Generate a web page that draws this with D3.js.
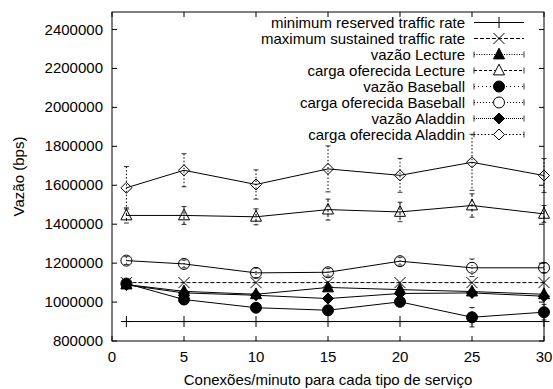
<!DOCTYPE html>
<html>
<head>
<meta charset="utf-8">
<script src="https://d3js.org/d3.v7.min.js"></script>
<style>
  body { margin: 0; background: #fff; }
  text { font-family: "Liberation Sans", Arial, Helvetica, sans-serif; font-size: 15px; fill: #000; }
</style>
</head>
<body>
<figure id="chart" style="margin:0"></figure>
<script>
// data
const conexoes = [1, 5, 10, 15, 20, 25, 30];
const xTicks = [0, 5, 10, 15, 20, 25, 30];
const yTicks = [800000, 1000000, 1200000, 1400000, 1600000, 1800000, 2000000, 2200000, 2400000];

const minReserved = [900000, 900000, 900000, 900000, 900000, 900000, 900000];
const maxSustained = [1100000, 1100000, 1100000, 1100000, 1100000, 1100000, 1100000];
const vazaoLecture = [1090000, 1055000, 1040000, 1075000, 1064000, 1054000, 1040000];
const errVazaoLecture = [5000, 8000, 8000, 8000, 8000, 8000, 8000];
const cargaLecture = [1445000, 1445000, 1438000, 1475000, 1463000, 1496000, 1453000];
const errCargaLecture = [39000, 46000, 41000, 54000, 50000, 60000, 43000];
const vazaoBaseball = [1095000, 1013000, 971000, 958000, 1001000, 922000, 948000];
const errVazaoBaseball = [8000, 10000, 15000, 15000, 10000, 50000, 40000];
const cargaBaseball = [1213000, 1196000, 1150000, 1153000, 1210000, 1176000, 1176000];
const errCargaBaseball = [20000, 20000, 25000, 20000, 20000, 45000, 25000];
const vazaoAladdin = [1088000, 1047000, 1035000, 1018000, 1044000, 1047000, 1030000];
const errVazaoAladdin = [5000, 8000, 8000, 8000, 8000, 8000, 8000];
const cargaAladdin = [1587000, 1677000, 1604000, 1684000, 1651000, 1718000, 1650000];
const errCargaAladdin = [109000, 85000, 75000, 118000, 87000, 144000, 87000];

const series = [
  { name: 'minimum reserved traffic rate', values: minReserved, err: null, mark: 'plus', dash: null, line: null },
  { name: 'maximum sustained traffic rate', values: maxSustained, err: null, mark: 'cross', dash: '4,2', line: '4,2' },
  { name: 'vazão Lecture', values: vazaoLecture, err: errVazaoLecture, mark: 'triF', dash: '1,1.5', line: null },
  { name: 'carga oferecida Lecture', values: cargaLecture, err: errCargaLecture, mark: 'tri', dash: '3,2', line: null },
  { name: 'vazão Baseball', values: vazaoBaseball, err: errVazaoBaseball, mark: 'circF', dash: '1,3', line: null },
  { name: 'carga oferecida Baseball', values: cargaBaseball, err: errCargaBaseball, mark: 'circ', dash: '1,2', line: null },
  { name: 'vazão Aladdin', values: vazaoAladdin, err: errVazaoAladdin, mark: 'diaF', dash: '1,1', line: null },
  { name: 'carga oferecida Aladdin', values: cargaAladdin, err: errCargaAladdin, mark: 'dia', dash: '1.5,2', line: null },
];

const W = 553, H = 389;
const mLeft = 112, mRight = 544, mTop = 12, mBottom = 341;

const svg = d3.select('figure#chart').append('svg')
  .attr('width', W).attr('height', H);

const x = d3.scaleLinear().domain([0, 30]).range([mLeft, mRight]);
const y = d3.scaleLinear().domain([800000, 2490000]).range([mBottom, mTop]);

// marker shapes, s = half size
function markPath(kind, s) {
  if (kind === 'plus') return `M${-s},0H${s}M0,${-s}V${s}`;
  if (kind === 'cross') return `M${-s},${-s}L${s},${s}M${-s},${s}L${s},${-s}`;
  if (kind === 'tri' || kind === 'triF') return `M0,${-s * 1.15}L${s},${s * 0.8}L${-s},${s * 0.8}Z`;
  if (kind === 'dia' || kind === 'diaF') return `M0,${-s}L${s},0L0,${s}L${-s},0Z`;
  // circle
  return `M${-s},0A${s},${s} 0 1,0 ${s},0A${s},${s} 0 1,0 ${-s},0Z`;
}
const filled = k => k.endsWith('F');

// frame
svg.append('rect')
  .attr('x', mLeft).attr('y', mTop)
  .attr('width', mRight - mLeft).attr('height', mBottom - mTop)
  .attr('fill', 'none').attr('stroke', '#000');

// ticks, inward and mirrored like gnuplot
const tl = 5;
const ticks = svg.append('g').attr('stroke', '#000');
yTicks.forEach(v => {
  ticks.append('line').attr('x1', mLeft).attr('x2', mLeft + tl).attr('y1', y(v)).attr('y2', y(v));
  ticks.append('line').attr('x1', mRight).attr('x2', mRight - tl).attr('y1', y(v)).attr('y2', y(v));
});
xTicks.forEach(v => {
  ticks.append('line').attr('x1', x(v)).attr('x2', x(v)).attr('y1', mBottom).attr('y2', mBottom - tl);
  ticks.append('line').attr('x1', x(v)).attr('x2', x(v)).attr('y1', mTop).attr('y2', mTop + tl);
});

svg.append('g').selectAll('text').data(yTicks).join('text')
  .attr('x', mLeft - 9).attr('y', d => y(d) + 5)
  .attr('text-anchor', 'end')
  .text(d => d);

svg.append('g').selectAll('text').data(xTicks).join('text')
  .attr('x', d => x(d)).attr('y', mBottom + 21)
  .attr('text-anchor', 'middle')
  .text(d => d);

svg.append('text')
  .attr('x', (mLeft + mRight) / 2).attr('y', 385)
  .attr('text-anchor', 'middle')
  .text('Conexões/minuto para cada tipo de serviço');

svg.append('text')
  .attr('transform', `translate(24,${(mTop + mBottom) / 2}) rotate(-90)`)
  .attr('text-anchor', 'middle')
  .text('Vazão (bps)');

// series
const lineGen = d3.line().x(d => x(d[0])).y(d => y(d[1]));
const plot = svg.append('g');

series.forEach(s => {
  const pts = conexoes.map((c, i) => [c, s.values[i], s.err ? s.err[i] : 0]);
  const g = plot.append('g');

  g.append('path')
    .attr('d', lineGen(pts))
    .attr('fill', 'none').attr('stroke', '#000')
    .attr('stroke-dasharray', s.line);

  if (s.err) {
    pts.forEach(p => {
      const cx = x(p[0]), y1 = y(p[1] + p[2]), y2 = y(p[1] - p[2]);
      g.append('line').attr('x1', cx).attr('x2', cx).attr('y1', y1).attr('y2', y2)
        .attr('stroke', '#000').attr('stroke-dasharray', s.dash);
      [y1, y2].forEach(yy => g.append('line')
        .attr('x1', cx - 2.5).attr('x2', cx + 2.5).attr('y1', yy).attr('y2', yy)
        .attr('stroke', '#000').attr('stroke-width', 0.8));
    });
  }

  g.selectAll('path.mk').data(pts).join('path')
    .attr('class', 'mk')
    .attr('transform', d => `translate(${x(d[0])},${y(d[1])})`)
    .attr('d', markPath(s.mark, 5.5))
    .attr('fill', filled(s.mark) ? '#000' : 'none')
    .attr('stroke', '#000');
});

// legend, top right inside the frame
const legend = svg.append('g');
const lx0 = 474, lx1 = 524, ltext = 465, ly0 = 22.5, lstep = 16;
series.forEach((s, i) => {
  const yy = ly0 + i * lstep;
  legend.append('text')
    .attr('x', ltext).attr('y', yy + 5)
    .attr('text-anchor', 'end')
    .text(s.name);
  legend.append('line')
    .attr('x1', lx0).attr('x2', lx1).attr('y1', yy).attr('y2', yy)
    .attr('stroke', '#000').attr('stroke-dasharray', s.dash);
  if (s.err) {
    [lx0, lx1].forEach(xx => legend.append('line')
      .attr('x1', xx).attr('x2', xx).attr('y1', yy - 3).attr('y2', yy + 3)
      .attr('stroke', '#000').attr('stroke-width', 0.8));
  }
  legend.append('path')
    .attr('transform', `translate(${(lx0 + lx1) / 2},${yy})`)
    .attr('d', markPath(s.mark, 5.5))
    .attr('fill', filled(s.mark) ? '#000' : (s.mark === 'plus' || s.mark === 'cross' ? 'none' : '#fff'))
    .attr('stroke', '#000');
});
</script>
</body>
</html>
